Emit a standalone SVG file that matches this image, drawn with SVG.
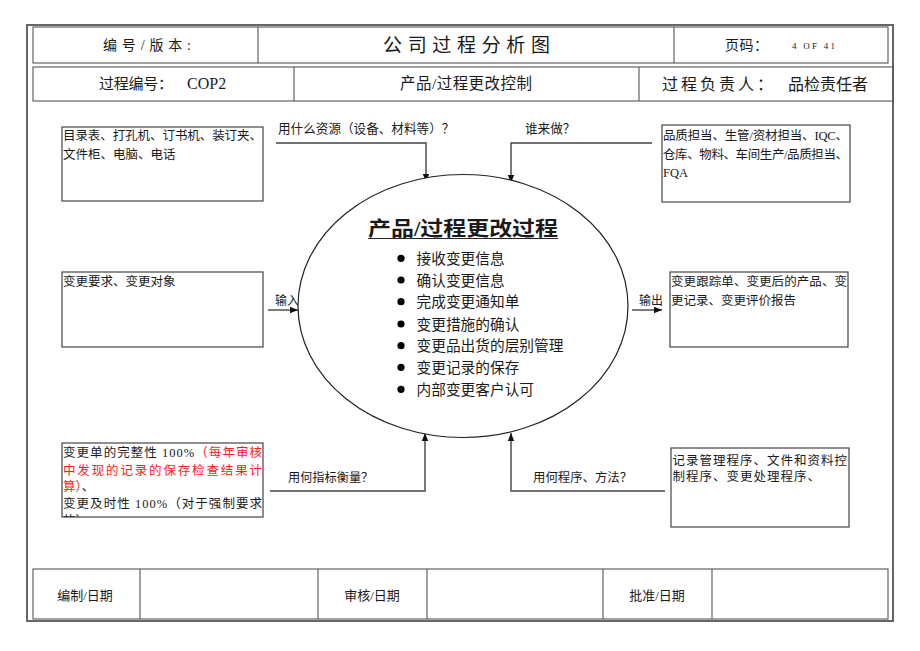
<svg xmlns="http://www.w3.org/2000/svg" width="920" height="651" viewBox="0 0 920 651">
<defs>
<style>
.t{font-family:"Liberation Serif","Noto Sans CJK SC",serif;fill:#1a1a1a}
.box{fill:#fff;stroke:#444;stroke-width:1.2}
.frame{fill:none;stroke:#666;stroke-width:2}
.cell{fill:none;stroke:#555;stroke-width:1.1}
.conn{fill:none;stroke:#444;stroke-width:1.4}
.red{fill:#ff1a1a}
</style>
<marker id="ah" viewBox="0 0 8 8" refX="8" refY="4" markerWidth="8" markerHeight="8" markerUnits="userSpaceOnUse" orient="auto">
<path d="M0,0.8 L8,4 L0,7.2 Z" fill="#111"/>
</marker>
<clipPath id="clipBL"><rect x="62" y="443" width="201" height="74"/></clipPath>
</defs>
<rect width="920" height="651" fill="#fff"/>

<g id="frame">
<rect class="frame" x="27" y="25" width="866" height="596"/>
</g>

<g id="header1">
<rect class="cell" x="33" y="27" width="855" height="36"/>
<line class="cell" x1="258" y1="27" x2="258" y2="63"/>
<line class="cell" x1="674" y1="27" x2="674" y2="63"/>
<text class="t" x="103" y="50" font-size="14" textLength="88" lengthAdjust="spacing">编号/版本:</text>
<text class="t" x="383" y="52" font-size="19" textLength="167" lengthAdjust="spacing">公司过程分析图</text>
<text class="t" x="725" y="50" font-size="14" textLength="43" lengthAdjust="spacing">页码：</text>
<text class="t" x="792" y="49" font-size="9" textLength="43" lengthAdjust="spacing">4  OF  41</text>
</g>

<g id="header2">
<rect class="cell" x="33" y="67" width="860" height="34"/>
<line class="cell" x1="294" y1="67" x2="294" y2="101"/>
<line class="cell" x1="639" y1="67" x2="639" y2="101"/>
<text class="t" x="99" y="89" font-size="15" textLength="74" lengthAdjust="spacing">过程编号：</text>
<text class="t" x="187" y="89" font-size="16">COP2</text>
<text class="t" x="400" y="89" font-size="15.5" textLength="132" lengthAdjust="spacing">产品/过程更改控制</text>
<text class="t" x="662" y="90" font-size="16" textLength="111" lengthAdjust="spacing">过程负责人：</text>
<text class="t" x="788" y="90" font-size="16">品检责任者</text>
</g>

<g id="connectors">
<path class="conn" d="M276,143 H426 V182" marker-end="url(#ah)"/>
<path class="conn" d="M652,143 H511 V183" marker-end="url(#ah)"/>
<path class="conn" d="M270,491 H425 V433" marker-end="url(#ah)"/>
<path class="conn" d="M665,491 H511 V433" marker-end="url(#ah)"/>
<path class="conn" d="M268,310 H298" marker-end="url(#ah)"/>
<path class="conn" d="M632,310 H662" marker-end="url(#ah)"/>
<text class="t" x="278" y="133" font-size="12.6">用什么资源（设备、材料等）？</text>
<text class="t" x="525" y="133" font-size="12.6">谁来做？</text>
<text class="t" x="288" y="481.5" font-size="12.2">用何指标衡量？</text>
<text class="t" x="533" y="481.5" font-size="12.4">用何程序、方法？</text>
<text class="t" x="275" y="305" font-size="12">输入</text>
<text class="t" x="639" y="305" font-size="12">输出</text>
</g>

<g id="process">
<ellipse cx="463" cy="306" rx="165" ry="131.5" fill="#fff" stroke="#222" stroke-width="1.2"/>
<text class="t" x="368" y="236" font-size="20" font-weight="bold" textLength="190" lengthAdjust="spacingAndGlyphs">产品/过程更改过程</text>
<line x1="368" y1="238.5" x2="558" y2="238.5" stroke="#222" stroke-width="1.2"/>
<g fill="#000">
<circle cx="401" cy="258.3" r="3.6"/>
<circle cx="401" cy="280" r="3.6"/>
<circle cx="401" cy="301.7" r="3.6"/>
<circle cx="401" cy="324" r="3.6"/>
<circle cx="401" cy="345.7" r="3.6"/>
<circle cx="401" cy="367.3" r="3.6"/>
<circle cx="401" cy="389.3" r="3.6"/>
</g>
<text class="t" x="416.5" y="263.8" font-size="14.7">接收变更信息</text>
<text class="t" x="416.5" y="285.5" font-size="14.7">确认变更信息</text>
<text class="t" x="416.5" y="307.2" font-size="14.7">完成变更通知单</text>
<text class="t" x="416.5" y="329.5" font-size="14.7">变更措施的确认</text>
<text class="t" x="416.5" y="351.2" font-size="14.7">变更品出货的层别管理</text>
<text class="t" x="416.5" y="372.8" font-size="14.7">变更记录的保存</text>
<text class="t" x="416.5" y="394.8" font-size="14.7">内部变更客户认可</text>
</g>

<g id="resources">
<rect class="box" x="62" y="127" width="201" height="74"/>
<text class="t" x="63" y="139.5" font-size="12.5" textLength="199" lengthAdjust="spacing">目录表、打孔机、订书机、装订夹、</text>
<text class="t" x="63" y="158.5" font-size="12.5">文件柜、电脑、电话</text>
</g>

<g id="who">
<rect class="box" x="662" y="125" width="188" height="77"/>
<text class="t" x="663" y="139.5" font-size="12.5" textLength="185" lengthAdjust="spacing">品质担当、生管/资材担当、IQC、</text>
<text class="t" x="663" y="158.5" font-size="12.5" textLength="185" lengthAdjust="spacing">仓库、物料、车间生产/品质担当、</text>
<text class="t" x="663" y="176.5" font-size="12.5">FQA</text>
</g>

<g id="input">
<rect class="box" x="62" y="272" width="201" height="75"/>
<text class="t" x="63" y="286" font-size="12.5">变更要求、变更对象</text>
</g>

<g id="output">
<rect class="box" x="670" y="272" width="178" height="75"/>
<text class="t" x="671" y="286" font-size="12.5" textLength="176" lengthAdjust="spacing">变更跟踪单、变更后的产品、变</text>
<text class="t" x="671" y="304.5" font-size="12.5">更记录、变更评价报告</text>
</g>

<g id="measures">
<rect class="box" x="62" y="443" width="201" height="74"/>
<g clip-path="url(#clipBL)">
<text class="t" x="63" y="456.8" font-size="12.5" textLength="199" lengthAdjust="spacing">变更单的完整性 100%<tspan class="red">（每年审核</tspan></text>
<text class="t red" x="63" y="474.5" font-size="12.5" textLength="199" lengthAdjust="spacing">中发现的记录的保存检查结果计</text>
<text class="t" x="63" y="491.2" font-size="12.5"><tspan class="red">算）</tspan>、</text>
<text class="t" x="63" y="507.8" font-size="12.5" textLength="199" lengthAdjust="spacing">变更及时性 100%（对于强制要求</text>
<text class="t" x="63" y="524.5" font-size="12.5">的）</text>
</g>
</g>

<g id="methods">
<rect class="box" x="671" y="448" width="178" height="79"/>
<text class="t" x="672.5" y="464.5" font-size="12.5" letter-spacing="1">记录管理程序、文件和资料控</text>
<text class="t" x="672.5" y="480.5" font-size="12.5" letter-spacing="1">制程序、变更处理程序、</text>
</g>

<g id="footer">
<rect class="cell" x="33" y="569" width="855" height="50"/>
<line class="cell" x1="140" y1="569" x2="140" y2="619"/>
<line class="cell" x1="318" y1="569" x2="318" y2="619"/>
<line class="cell" x1="427" y1="569" x2="427" y2="619"/>
<line class="cell" x1="603" y1="569" x2="603" y2="619"/>
<line class="cell" x1="712" y1="569" x2="712" y2="619"/>
<text class="t" x="85" y="599.5" font-size="13" text-anchor="middle">编制/日期</text>
<text class="t" x="372" y="599.5" font-size="13" text-anchor="middle">审核/日期</text>
<text class="t" x="657" y="599.5" font-size="13" text-anchor="middle">批准/日期</text>
</g>
</svg>
